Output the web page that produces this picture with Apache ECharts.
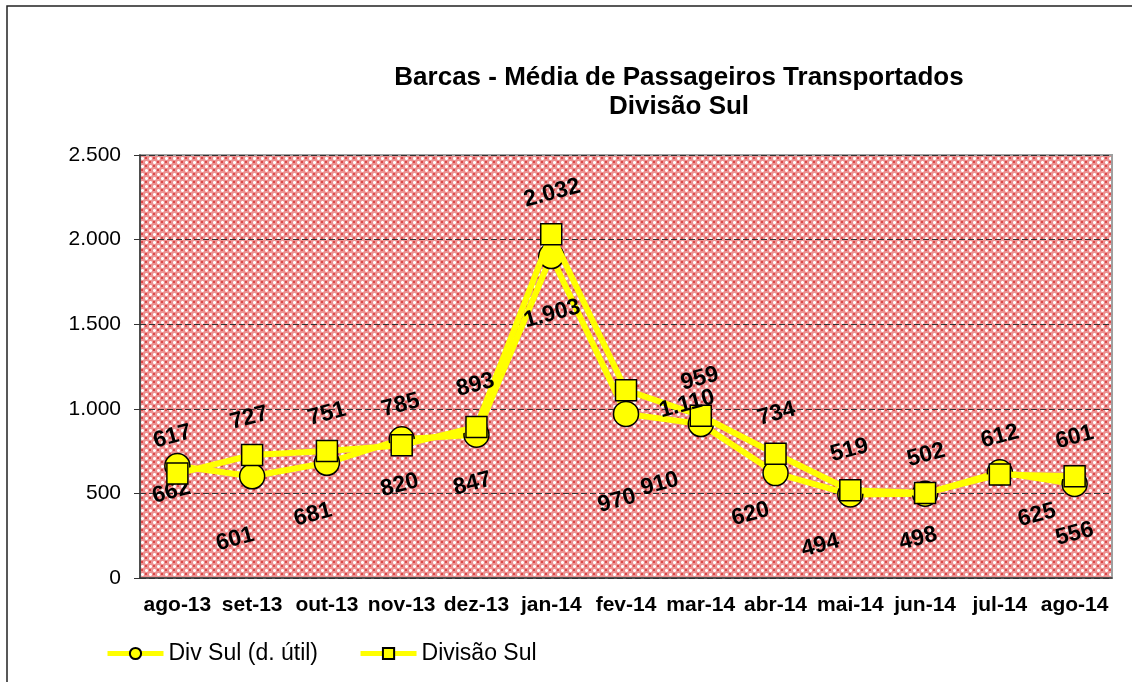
<!DOCTYPE html>
<html>
<head>
<meta charset="utf-8">
<title>Barcas - Média de Passageiros Transportados</title>
<script src="https://cdn.jsdelivr.net/npm/echarts@6/dist/echarts.min.js"></script>
<style>
  html, body { margin: 0; padding: 0; background: #fff; }
  #chart { width: 1132px; height: 682px; }
</style>
</head>
<body>
<div id="chart"></div>
<script>
// dados
const months = ['ago-13', 'set-13', 'out-13', 'nov-13', 'dez-13', 'jan-14', 'fev-14',
  'mar-14', 'abr-14', 'mai-14', 'jun-14', 'jul-14', 'ago-14'];
const divSulUtil = [662, 601, 681, 820, 847, 1903, 970, 910, 620, 494, 498, 625, 556];
const divisaoSul = [617, 727, 751, 785, 893, 2032, 1110, 959, 734, 519, 502, 612, 601];
const yTicks = [0, 500, 1000, 1500, 2000, 2500];

// deslocamento dos rótulos em px de tela (como no Excel, alguns ficaram fora do lugar)
const utilLabelOffsets = [[-6, 26], [-17, 63], [-14, 52], [-2, 46], [-4, 49], [1, 58], [-9, 87],
  [-41, 60], [-25, 41], [-30, 51], [-7, 45], [37, 43], [0, 50]];
const sulLabelOffsets = [[-5, -37], [-3, -37], [0, -37], [-1, -40], [-1, -42], [1, -41], [61, 14],
  [-1, -37], [1, -40], [-1, -40], [1, -38], [0, -38], [0, -39]];

const FONT = '"Liberation Sans", Arial, sans-serif';
const LABEL_ROTATE = 15;

// padrão xadrez vermelho/branco do fundo
function makeHatch() {
  const c = document.createElement('canvas');
  c.width = 8;
  c.height = 8;
  const g = c.getContext('2d');
  g.fillStyle = '#ec9292';
  g.fillRect(0, 0, 8, 8);
  g.fillStyle = '#da4848';
  g.fillRect(5, 1, 2, 2);
  g.fillRect(1, 5, 2, 2);
  [[2, 2], [6, 6]].forEach(([x, y]) => {
    g.fillStyle = '#f8d2d2';
    g.fillRect(x - 1, y - 1, 3, 3);
    g.fillStyle = '#ffffff';
    g.fillRect(x - 1, y, 3, 1);
    g.fillRect(x, y - 1, 1, 3);
  });
  return c;
}

function fmt(v) {
  return String(v).replace(/\B(?=(\d{3})+(?!\d))/g, '.');
}

// o offset do rótulo é aplicado no sistema já girado, então desfaz a rotação
function toLocal([gx, gy]) {
  const a = LABEL_ROTATE * Math.PI / 180;
  return [gx * Math.cos(a) - gy * Math.sin(a), gx * Math.sin(a) + gy * Math.cos(a)];
}

function withLabels(values, offsets) {
  return values.map((v, i) => ({ value: v, label: { offset: toLocal(offsets[i]) } }));
}

const chart = echarts.init(document.getElementById('chart'));

const labelStyle = {
  show: true,
  position: 'inside',
  rotate: LABEL_ROTATE,
  color: '#000',
  fontFamily: FONT,
  fontWeight: 'bold',
  fontSize: 23,
  formatter: p => fmt(p.value)
};

chart.setOption({
  backgroundColor: '#fff',
  animation: false,
  textStyle: { fontFamily: FONT },
  title: {
    text: 'Barcas - Média de Passageiros Transportados\nDivisão Sul',
    left: 674,
    top: 58,
    textAlign: 'center',
    textStyle: { fontFamily: FONT, fontWeight: 'bold', fontSize: 26, lineHeight: 29, color: '#000' }
  },
  graphic: [{
    type: 'rect',
    shape: { x: 7, y: 6, width: 1200, height: 800 },
    style: { fill: 'none', stroke: '#222', lineWidth: 1.5 },
    silent: true
  }],
  grid: {
    left: 140,
    right: 20,
    top: 155,
    bottom: 104,
    show: true,
    backgroundColor: { image: makeHatch(), repeat: 'repeat' },
    borderColor: '#a0a0a0',
    borderWidth: 2
  },
  legend: {
    left: 100,
    top: 637,
    itemWidth: 56,
    itemHeight: 14,
    itemGap: 40,
    lineStyle: { width: 5 },
    textStyle: { fontFamily: FONT, fontSize: 23, color: '#000' },
    data: ['Div Sul (d. útil)', 'Divisão Sul']
  },
  xAxis: {
    type: 'category',
    data: months,
    boundaryGap: true,
    axisLine: { lineStyle: { color: '#333', width: 1.5 } },
    axisTick: { length: 6, lineStyle: { color: '#333' } },
    axisLabel: { color: '#000', fontFamily: FONT, fontWeight: 'bold', fontSize: 21, margin: 17, interval: 0 },
    splitLine: { show: false }
  },
  yAxis: {
    type: 'value',
    min: yTicks[0],
    max: yTicks[yTicks.length - 1],
    interval: 500,
    axisLine: { show: true, lineStyle: { color: '#333', width: 1.5 } },
    axisTick: { show: true, length: 6, lineStyle: { color: '#333' } },
    axisLabel: { color: '#000', fontFamily: FONT, fontSize: 21, margin: 19, formatter: v => fmt(v) },
    splitLine: { lineStyle: { color: '#333', type: [6, 3], width: 1 } }
  },
  series: [
    {
      name: 'Div Sul (d. útil)',
      type: 'line',
      data: withLabels(divSulUtil, utilLabelOffsets),
      symbol: 'circle',
      symbolSize: 25,
      lineStyle: { color: '#ffff00', width: 6 },
      itemStyle: { color: '#ffff00', borderColor: '#000', borderWidth: 1.5 },
      label: labelStyle,
      z: 2
    },
    {
      name: 'Divisão Sul',
      type: 'line',
      data: withLabels(divisaoSul, sulLabelOffsets),
      symbol: 'rect',
      symbolSize: 21,
      lineStyle: { color: '#ffff00', width: 6 },
      itemStyle: { color: '#ffff00', borderColor: '#000', borderWidth: 1.5 },
      label: labelStyle,
      z: 3
    }
  ]
});
</script>
</body>
</html>
